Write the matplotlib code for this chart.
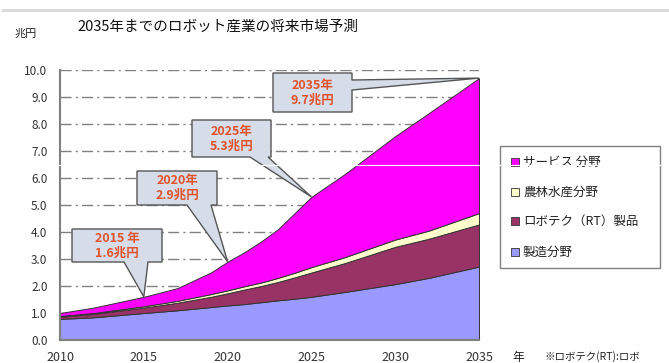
import matplotlib
matplotlib.use("Agg")
import matplotlib.pyplot as plt
from matplotlib.patches import Polygon, Rectangle
from matplotlib.lines import Line2D
import numpy as np

plt.rcParams['font.family'] = ['Noto Sans CJK JP', 'DejaVu Sans']

# データ (兆円) 読み取り値
years = [2010, 2012, 2015, 2017, 2019, 2020, 2021, 2022, 2023, 2024, 2025, 2027, 2030, 2032, 2035]
seizou = [0.78, 0.84, 1.00, 1.10, 1.22, 1.28, 1.33, 1.40, 1.47, 1.53, 1.60, 1.78, 2.07, 2.30, 2.72]
robotech = [0.08, 0.13, 0.20, 0.28, 0.38, 0.45, 0.54, 0.60, 0.68, 0.79, 0.90, 1.07, 1.38, 1.45, 1.56]
nourin = [0.03, 0.03, 0.05, 0.07, 0.10, 0.11, 0.12, 0.13, 0.15, 0.17, 0.20, 0.22, 0.27, 0.30, 0.42]
service = [0.11, 0.20, 0.35, 0.47, 0.80, 1.06, 1.26, 1.52, 1.80, 2.21, 2.60, 3.08, 3.83, 4.35, 5.00]

labels = ['製造分野', 'ロボテク（RT）製品', '農林水産分野', 'サービス 分野']
colors = ['#9999FF', '#993366', '#FFFFCC', '#FF00FF']

callout_years = [2015, 2020, 2025, 2035]
callout_vals = [1.6, 2.9, 5.3, 9.7]
callout_text = ['2015 年\n1.6兆円', '2020年\n2.9兆円', '2025年\n5.3兆円', '2035年\n9.7兆円']

W, H = 669, 363
fig = plt.figure(figsize=(W / 100, H / 100), dpi=100)
# 軸の位置 (ピクセル)
L, R, T, B = 60, 479, 70, 340
ax = fig.add_axes([L / W, 1 - B / H, (R - L) / W, (B - T) / H])

ax.stackplot(years, seizou, robotech, nourin, service, colors=colors,
             edgecolor='#333333', linewidth=0.7, zorder=2)

ax.set_xlim(2010, 2035)
ax.set_ylim(0, 10)
ax.set_axisbelow(True)
ax.set_yticks(np.arange(0, 10.1, 1.0))
ax.set_yticklabels(['%.1f' % v for v in np.arange(0, 10.1, 1.0)])
ax.set_xticks([2010, 2015, 2020, 2025, 2030, 2035])
ax.set_xticks(range(2010, 2036), minor=True)
ax.tick_params(axis='y', length=0, pad=9, labelsize=8.5, labelcolor='#333333')
ax.tick_params(axis='x', which='both', direction='in', length=4, color='#808080',
               pad=8, labelsize=9, labelcolor='#333333')
ax.grid(axis='y', color='#808080', linewidth=1, linestyle=(0, (8, 3, 1.5, 3)))
for s in ['top', 'right']:
    ax.spines[s].set_visible(False)
for s in ['left', 'bottom']:
    ax.spines[s].set_color('#808080')
    ax.spines[s].set_linewidth(1.5)

# 吹き出し
def px2ax(px, py):
    return ((px - L) / (R - L), (B - py) / (B - T))

d2a = ax.transData - ax.transAxes
boxes = [(72, 229, 162, 262), (137, 171, 217, 205), (192, 120, 271, 157), (273, 73, 352, 112)]
bases = [('b', 124, 148), ('b', 187, 211), ('b', 250, 268), ('r', 80, 90)]
for i in range(4):
    x0, y0, x1, y1 = boxes[i]
    tip = tuple(d2a.transform((callout_years[i], callout_vals[i])))
    side, b1, b2 = bases[i]
    if side == 'b':
        pts = [(x0, y0), (x1, y0), (x1, y1), (b2, y1), None, (b1, y1), (x0, y1)]
    else:
        pts = [(x0, y0), (x1, y0), (x1, b1), None, (x1, b2), (x1, y1), (x0, y1)]
    verts = [tip if p is None else px2ax(*p) for p in pts]
    ax.add_patch(Polygon(verts, closed=True, transform=ax.transAxes, facecolor='#D6DDE9',
                         edgecolor='#555555', linewidth=1.0, zorder=5, clip_on=False))
    cx, cy = px2ax((x0 + x1) / 2, (y0 + y1) / 2)
    ax.text(cx, cy, callout_text[i], transform=ax.transAxes, ha='center', va='center',
            fontsize=9, fontweight='bold', color='#E0522B', linespacing=1.15, zorder=6)

# 凡例 (手描き)
fig.patches.append(Rectangle((500 / W, 1 - 268 / H), 160 / W, 122 / H, transform=fig.transFigure,
                             facecolor='white', edgecolor='#808080', linewidth=1.0))
leg_y = [162, 192, 221, 252]
for i, lab in enumerate(labels[::-1]):
    c = colors[::-1][i]
    y = leg_y[i]
    fig.patches.append(Rectangle((511 / W, 1 - (y + 4) / H), 8 / W, 8 / H, transform=fig.transFigure,
                                 facecolor=c, edgecolor='#333333', linewidth=0.6))
    fig.text(523 / W, 1 - y / H, lab, fontsize=9, va='center', ha='left', color='#222222')

# テキスト
fig.text(77 / W, 1 - 27 / H, '2035年までのロボット産業の将来市場予測', fontsize=10.5,
         va='center', ha='left', color='#111111')
fig.text(15 / W, 1 - 34 / H, '兆円', fontsize=8, va='center', ha='left', color='#222222')
fig.text(512 / W, 1 - 357 / H, '年', fontsize=8.5, va='center', ha='left', color='#222222')
fig.text(545 / W, 1 - 357 / H, '※ロボテク(RT):ロボ', fontsize=7.5, va='center',
         ha='left', color='#222222')

# 画面の線
fig.add_artist(Line2D([0.005, 1], [1 - 10 / H, 1 - 10 / H], transform=fig.transFigure,
                      color='#d8d8d8', linewidth=2))
fig.add_artist(Line2D([0, 1], [1 - 165 / H, 1 - 165 / H], transform=fig.transFigure,
                      color='white', linewidth=0.8, zorder=10))

fig.savefig('out.png', dpi=100)
